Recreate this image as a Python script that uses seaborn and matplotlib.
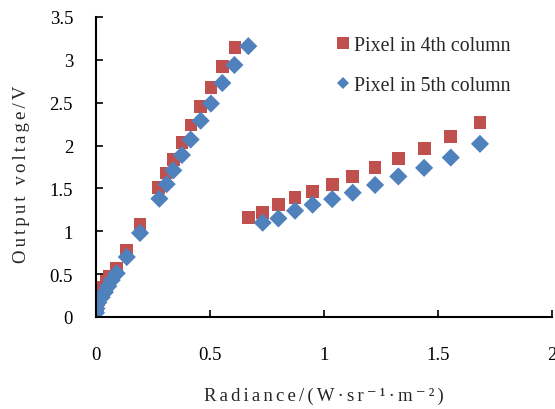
import matplotlib
matplotlib.use('Agg')
import matplotlib.pyplot as plt
from matplotlib.ticker import FuncFormatter, MultipleLocator
import pandas as pd
import seaborn as sns

# 4th column pixel, two branches
col4_x = [0.005, 0.012, 0.02, 0.03, 0.045, 0.06, 0.09, 0.132, 0.193, 0.275, 0.307, 0.339,
          0.377, 0.417, 0.459, 0.504, 0.556, 0.61,
          0.668, 0.731, 0.80, 0.873, 0.95, 1.036, 1.126, 1.224, 1.326, 1.439, 1.556, 1.684]
col4_y = [0.12, 0.2, 0.27, 0.34, 0.42, 0.47, 0.57, 0.78, 1.08, 1.51, 1.68, 1.84,
          2.04, 2.24, 2.46, 2.68, 2.92, 3.14,
          1.16, 1.22, 1.31, 1.39, 1.46, 1.55, 1.64, 1.74, 1.85, 1.97, 2.11, 2.27]

# 5th column pixel
col5_x = [0.0, 0.002, 0.01, 0.025, 0.039, 0.054, 0.069, 0.091, 0.135, 0.193, 0.278, 0.31,
          0.339, 0.377, 0.415, 0.459, 0.504, 0.554, 0.607, 0.668,
          0.731, 0.80, 0.873, 0.95, 1.036, 1.126, 1.224, 1.326, 1.439, 1.556, 1.684]
col5_y = [0.05, 0.1, 0.17, 0.23, 0.29, 0.36, 0.43, 0.51, 0.70, 0.98, 1.38, 1.55,
          1.71, 1.89, 2.07, 2.29, 2.49, 2.73, 2.94, 3.16,
          1.10, 1.15, 1.24, 1.31, 1.375, 1.45, 1.54, 1.64, 1.74, 1.86, 2.02]

names = ['Pixel in 4th column', 'Pixel in 5th column']
xlabel = 'Radiance/(W·sr⁻¹·m⁻²)'
ylabel = 'Output voltage/V'

df = pd.DataFrame({
    'x': col4_x + col5_x,
    'y': col4_y + col5_y,
    'series': [names[0]] * len(col4_x) + [names[1]] * len(col5_x),
})

sns.set_style('white')
plt.rcParams['font.family'] = ['Liberation Serif', 'DejaVu Serif']

fig = plt.figure(figsize=(5.55, 4.1), dpi=100)
ax = fig.add_axes([0.173, 0.2244, 0.8216, 0.7317])

sns.scatterplot(data=df, x='x', y='y', hue='series', style='series',
                palette={names[0]: '#C0504D', names[1]: '#4F81BD'},
                markers={names[0]: 's', names[1]: 'D'},
                s=85, linewidth=0, alpha=1, ax=ax)

ax.set_xlim(0, 2)
ax.set_ylim(0, 3.5)
ax.xaxis.set_major_locator(MultipleLocator(0.5))
ax.yaxis.set_major_locator(MultipleLocator(0.5))
fmt = FuncFormatter(lambda v, p: '%g' % v)
ax.xaxis.set_major_formatter(fmt)
ax.yaxis.set_major_formatter(fmt)

for side in ['top', 'right']:
    ax.spines[side].set_visible(False)
for side in ['left', 'bottom']:
    ax.spines[side].set_color('black')
    ax.spines[side].set_linewidth(1.5)
ax.tick_params(axis='both', direction='in', length=5, width=1.2, colors='black',
               labelsize=13.5, left=True, bottom=True)
ax.tick_params(axis='x', pad=21)
ax.tick_params(axis='y', pad=16.5)

# spaced-out lettering like the original (six-per-em space between letters)
gap = '\u2006'
ax.set_xlabel(gap.join(xlabel), fontsize=13.5, labelpad=17)
ax.set_ylabel(gap.join(ylabel), fontsize=13.5, labelpad=14)
ax.yaxis.label.set_y(0.48)

leg = ax.legend(loc='upper left', bbox_to_anchor=(0.48, 0.995), frameon=False,
                fontsize=14.3, markerscale=1, labelspacing=1.05,
                handletextpad=0.05, handlelength=1.0)
leg.legend_handles[0].set_markersize(9.1)
leg.legend_handles[1].set_markersize(6.6)

fig.savefig('out.png', dpi=100)
